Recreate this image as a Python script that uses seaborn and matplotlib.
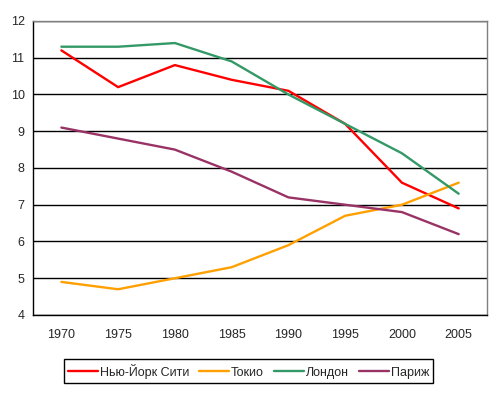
import pandas as pd
import matplotlib
matplotlib.use("Agg")
import matplotlib.pyplot as plt
import seaborn as sns

years = [1970, 1975, 1980, 1985, 1990, 1995, 2000, 2005]
new_york = [11.2, 10.2, 10.8, 10.4, 10.1, 9.2, 7.6, 6.9]
tokyo = [4.9, 4.7, 5.0, 5.3, 5.9, 6.7, 7.0, 7.6]
london = [11.3, 11.3, 11.4, 10.9, 10.0, 9.2, 8.4, 7.3]
paris = [9.1, 8.8, 8.5, 7.9, 7.2, 7.0, 6.8, 6.2]
cities = ["Нью-Йорк Сити", "Токио", "Лондон", "Париж"]

sns.set_style("white")
plt.rcParams['font.family'] = ['Liberation Sans', 'DejaVu Sans']

rows = []
for city, vals in zip(cities, [new_york, tokyo, london, paris]):
    for y, v in zip(years, vals):
        rows.append({"year": y, "value": v, "city": city})
df = pd.DataFrame(rows)

colors = ["#FF0000", "#FFA000", "#339966", "#993366"]

fig = plt.figure(figsize=(4.97, 3.93), dpi=100)
ax = fig.add_axes([0.0664, 0.1985, 0.9136, 0.7481])

sns.lineplot(data=df, x="year", y="value", hue="city", palette=colors,
             linewidth=1.7, ax=ax, legend=True)

ax.set_xlim(1967.5, 2007.5)
ax.set_ylim(4, 12)
ax.set_xticks(years)
ax.set_xticks([1967.5 + 5 * i for i in range(9)], minor=True)
ax.set_yticks(range(4, 13))
ax.tick_params(axis="x", which="major", length=0, pad=10, labelsize=9)
ax.tick_params(axis="x", which="minor", length=4, width=1, color="black", direction="out")
ax.tick_params(axis="y", length=4, width=1, color="black", direction="out", labelsize=9, pad=2)
ax.set_xlabel("")
ax.set_ylabel("")
ax.grid(axis="y", color="black", linewidth=1)
ax.set_axisbelow(True)

for side in ["left", "bottom"]:
    ax.spines[side].set_color("black")
    ax.spines[side].set_linewidth(1)
for side in ["top", "right"]:
    ax.spines[side].set_color("#808080")
    ax.spines[side].set_linewidth(1)

handles, labels = ax.get_legend_handles_labels()
leg = fig.legend(handles, labels, loc="upper center", bbox_to_anchor=(0.5, 0.102),
                 ncol=4, fontsize=9, frameon=True, fancybox=False, framealpha=1,
                 edgecolor="black", handlelength=2.4, handletextpad=0.15,
                 columnspacing=0.8, borderpad=0.35)
leg.get_frame().set_linewidth(1)
ax.get_legend().remove()

fig.savefig("out.png", dpi=100)
